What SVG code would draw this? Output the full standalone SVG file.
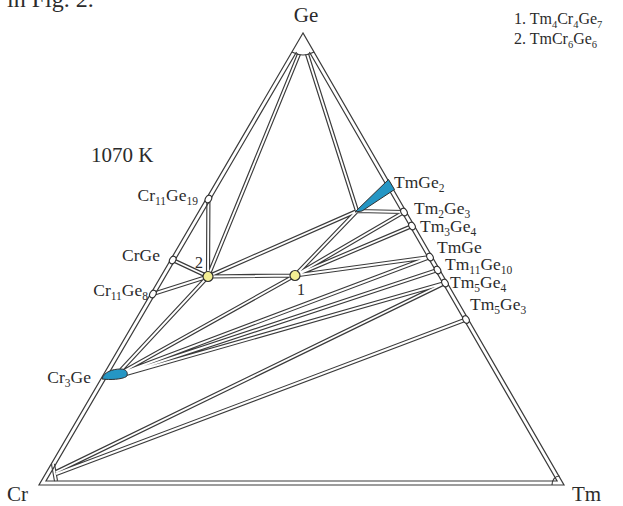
<svg xmlns="http://www.w3.org/2000/svg" width="623" height="506" viewBox="0 0 623 506">
<style>
  text { font-family: "Liberation Serif", "Times New Roman", serif; fill: #2b2b2b; }
  .lbl { font-size: 17.5px; }
  .vtx { font-size: 21px; }
  .leg { font-size: 16px; }
  .num { font-size: 16px; }
  .tie-dark { fill: none; stroke: #3b3b3b; stroke-width: 4.2; }
  .tie-light { fill: none; stroke: #ffffff; stroke-width: 1.9; }
  .edge { fill: none; stroke: #3b3b3b; stroke-width: 1.2; stroke-linejoin: miter; }
  .phase { fill: #2596c4; stroke: #2f2f2f; stroke-width: 1; }
  .cmp { fill: #ffffff; stroke: #2f2f2f; stroke-width: 1.1; }
  .pt { fill: #f3ee93; stroke: #2f2f2f; stroke-width: 1.2; }
</style>
<defs>
  <!-- tie lines of the 1070 K isothermal section -->
  <path id="ties" d="
    M299,54 L208,276.5
    M307,54 L357,211
    M208.4,199 L208,276.5
    M172.7,260 L208,276.5
    M152.9,294 L208,276.5
    M121,370 L208,276.5
    M208,276.5 L295,275.5
    M208,276.5 L357,211
    M295,275.5 L357,211
    M357,211 L404,212
    M295,275.5 L404,212
    M295,275.5 L412,226
    M295,275.5 L430,257
    M124,371 L295,275.5
    M125,372 L430,257
    M126,373 L437.5,270
    M126,374 L445,283
    M56,472 L445,283
    M56,474 L466,319.5
    M53,464 L56,481"/>
</defs>

<text x="7" y="7" style="font-size:24px">in Fig. 2.</text>

<g id="connectors">
  <use href="#ties" class="tie-dark"/>
  <use href="#ties" class="tie-light"/>
</g>

<!-- composition triangle: outer border, inner border, corner boundaries -->
<g id="triangle">
  <polygon class="edge" points="303,33 39,485 564,485"/>
  <path class="edge" d="M296.5,52 L46,481 L557.1,481 L309.4,52"/>
  <path class="edge" d="M291.9,52 Q303,58 314.1,52"/>
  <path class="edge" d="M552,485 C552,480 555,476 559.5,476"/>
</g>

<g id="Ge"><text class="vtx" x="306" y="22" text-anchor="middle">Ge</text></g>
<g id="Cr"><text class="vtx" x="7" y="501">Cr</text></g>
<g id="Tm"><text class="vtx" x="572" y="501">Tm</text></g>

<text x="91" y="162" style="font-size:21px">1070 K</text>

<g id="Cr11Ge19">
  <ellipse class="cmp" cx="208.4" cy="199" rx="3" ry="4" transform="rotate(30 208.4 199)"/>
  <text class="lbl" x="198" y="201" text-anchor="end">Cr<tspan font-size="11.5" dy="3.5">11</tspan><tspan dy="-3.5">Ge</tspan><tspan font-size="11.5" dy="3.5">19</tspan></text>
</g>
<g id="CrGe">
  <ellipse class="cmp" cx="172.7" cy="260" rx="3" ry="4" transform="rotate(30 172.7 260)"/>
  <text class="lbl" x="160" y="261" text-anchor="end">CrGe</text>
</g>
<g id="Cr11Ge8">
  <ellipse class="cmp" cx="152.9" cy="294" rx="3" ry="4" transform="rotate(30 152.9 294)"/>
  <text class="lbl" x="148" y="296" text-anchor="end">Cr<tspan font-size="11.5" dy="3.5">11</tspan><tspan dy="-3.5">Ge</tspan><tspan font-size="11.5" dy="3.5">8</tspan></text>
</g>
<g id="Cr3Ge">
  <path class="phase" d="M102,379 C104,372 112,369 121,369 C126.5,369 128.5,373 126.5,376.5 C122,379.5 110,380 102,379 Z"/>
  <text class="lbl" x="91" y="383" text-anchor="end">Cr<tspan font-size="11.5" dy="3.5">3</tspan><tspan dy="-3.5">Ge</tspan></text>
</g>

<g id="TmGe2">
  <polygon class="phase" points="355,212 388.5,179.5 394.5,189.5 362,211"/>
  <text class="lbl" x="394" y="188">TmGe<tspan font-size="11.5" dy="3.5">2</tspan></text>
</g>
<g id="Tm2Ge3">
  <ellipse class="cmp" cx="404" cy="212" rx="3" ry="4" transform="rotate(-30 404 212)"/>
  <text class="lbl" x="414" y="214">Tm<tspan font-size="11.5" dy="3.5">2</tspan><tspan dy="-3.5">Ge</tspan><tspan font-size="11.5" dy="3.5">3</tspan></text>
</g>
<g id="Tm3Ge4">
  <ellipse class="cmp" cx="412" cy="226" rx="3" ry="4" transform="rotate(-30 412 226)"/>
  <text class="lbl" x="420" y="232">Tm<tspan font-size="11.5" dy="3.5">3</tspan><tspan dy="-3.5">Ge</tspan><tspan font-size="11.5" dy="3.5">4</tspan></text>
</g>
<g id="TmGe">
  <ellipse class="cmp" cx="430" cy="257" rx="3" ry="4" transform="rotate(-30 430 257)"/>
  <text class="lbl" x="437" y="253">TmGe</text>
</g>
<g id="Tm11Ge10">
  <ellipse class="cmp" cx="437.5" cy="270" rx="3" ry="4" transform="rotate(-30 437.5 270)"/>
  <text class="lbl" x="445" y="270">Tm<tspan font-size="11.5" dy="3.5">11</tspan><tspan dy="-3.5">Ge</tspan><tspan font-size="11.5" dy="3.5">10</tspan></text>
</g>
<g id="Tm5Ge4">
  <ellipse class="cmp" cx="445" cy="283" rx="3" ry="4" transform="rotate(-30 445 283)"/>
  <text class="lbl" x="450" y="288">Tm<tspan font-size="11.5" dy="3.5">5</tspan><tspan dy="-3.5">Ge</tspan><tspan font-size="11.5" dy="3.5">4</tspan></text>
</g>
<g id="Tm5Ge3">
  <ellipse class="cmp" cx="466" cy="319.5" rx="3" ry="4" transform="rotate(-30 466 319.5)"/>
  <text class="lbl" x="470" y="310">Tm<tspan font-size="11.5" dy="3.5">5</tspan><tspan dy="-3.5">Ge</tspan><tspan font-size="11.5" dy="3.5">3</tspan></text>
</g>

<g id="Tm4Cr4Ge7">
  <circle class="pt" cx="295" cy="275.5" r="5"/>
  <text class="num" x="297" y="295">1</text>
</g>
<g id="TmCr6Ge6">
  <circle class="pt" cx="208" cy="276.5" r="5"/>
  <text class="num" x="195" y="268">2</text>
</g>

<g id="legend">
  <text class="leg" x="514" y="24">1. Tm<tspan font-size="10.5" dy="3.5">4</tspan><tspan dy="-3.5">Cr</tspan><tspan font-size="10.5" dy="3.5">4</tspan><tspan dy="-3.5">Ge</tspan><tspan font-size="10.5" dy="3.5">7</tspan></text>
  <text class="leg" x="514" y="44">2. TmCr<tspan font-size="10.5" dy="3.5">6</tspan><tspan dy="-3.5">Ge</tspan><tspan font-size="10.5" dy="3.5">6</tspan></text>
</g>
</svg>
